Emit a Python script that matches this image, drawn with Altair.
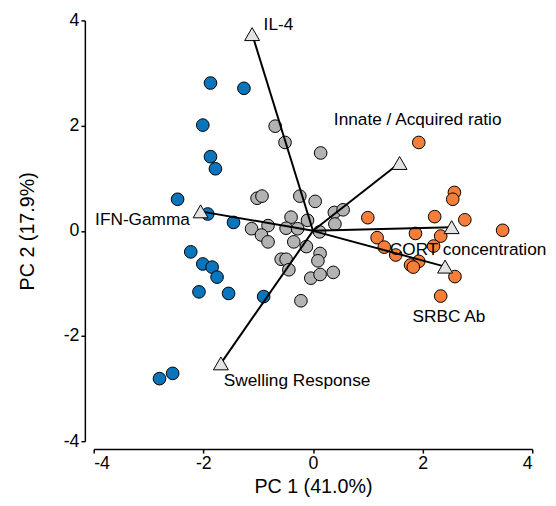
import altair as alt
import pandas as pd

# ---- PCA scores ----
blue_x = [-1.87, -1.26, -2.01, -1.87, -1.78, -2.47, -1.92, -1.45, -2.23, -2.01,
          -1.84, -1.75, -2.08, -1.54, -0.90, -2.80, -2.56]
blue_y = [2.81, 2.71, 2.01, 1.41, 1.18, 0.60, 0.32, 0.16, -0.40, -0.63,
          -0.69, -0.88, -1.16, -1.19, -1.25, -2.81, -2.71]

grey_x = [-0.69, -0.51, 0.14, -1.02, -0.93, -0.24, 0.04, 0.39, 0.55, -0.40,
          -0.10, -1.12, -0.82, -0.49, 0.40, -0.28, 0.12, -0.94, -0.82, -0.35,
          -0.12, 0.13, -0.58, -0.49, 0.09, -0.44, -0.04, 0.13, 0.37, -0.22]
grey_y = [1.99, 1.68, 1.48, 0.62, 0.66, 0.66, 0.56, 0.35, 0.40, 0.26,
          0.20, 0.04, 0.10, 0.05, 0.13, 0.04, -0.02, -0.08, -0.21, -0.21,
          -0.30, -0.43, -0.54, -0.54, -0.57, -0.74, -0.90, -0.83, -0.79, -1.33]

orange_x = [1.93, 2.58, 2.55, 1.00, 2.22, 2.77, 3.46, 1.87, 2.33, 1.17,
            2.20, 1.30, 1.51, 1.93, 1.78, 1.83, 2.59, 2.33]
orange_y = [1.68, 0.73, 0.60, 0.25, 0.27, 0.21, 0.01, -0.05, -0.10, -0.13,
            -0.29, -0.31, -0.46, -0.58, -0.65, -0.69, -0.87, -1.24]

# ---- variable loadings ----
var_names = ["IL-4", "IFN-Gamma", "Innate / Acquired ratio",
             "CORT concentration", "SRBC Ab", "Swelling Response"]
load_x = [-1.11, -2.05, 1.58, 2.53, 2.41, -1.68]
load_y = [3.74, 0.37, 1.29, 0.07, -0.68, -2.52]
label_x = [-0.63, -3.11, 1.91, 2.83, 2.48, -0.29]
label_y = [3.91, 0.20, 2.10, -0.36, -1.64, -2.86]

group_names = ["blue", "grey", "orange"]
group_colors = ["#0A74BC", "#B3B3B3", "#F57F3A"]

scores = pd.DataFrame({
    "PC1": blue_x + grey_x + orange_x,
    "PC2": blue_y + grey_y + orange_y,
    "group": ["blue"] * len(blue_x) + ["grey"] * len(grey_x) + ["orange"] * len(orange_x),
})
loadings = pd.DataFrame({
    "var": var_names, "lx": load_x, "ly": load_y,
    "tx": label_x, "ty": label_y,
    "x0": [0.0] * len(var_names), "y0": [0.0] * len(var_names),
})

font = "Liberation Sans"
ticks = [-4, -2, 0, 2, 4]
xs = alt.Scale(domain=[-4, 4], nice=False, zero=False)
ys = alt.Scale(domain=[-4, 4], nice=False, zero=False)

x_axis = alt.Axis(values=ticks, grid=False, offset=8, tickSize=4, labelPadding=2,
                  titlePadding=4, labelExpr="'' + datum.value")
y_axis = alt.Axis(values=ticks, grid=False, offset=9, tickSize=4, labelPadding=2,
                  titlePadding=26, labelExpr="'' + datum.value")

points = alt.Chart(scores).mark_circle(size=165, opacity=1, stroke="black",
                                       strokeWidth=1).encode(
    x=alt.X("PC1:Q", scale=xs, axis=x_axis, title="PC 1 (41.0%)"),
    y=alt.Y("PC2:Q", scale=ys, axis=y_axis, title="PC 2 (17.9%)"),
    fill=alt.Fill("group:N", scale=alt.Scale(domain=group_names, range=group_colors),
                  legend=None),
)

lines = alt.Chart(loadings).mark_rule(color="black", strokeWidth=2).encode(
    x=alt.X("x0:Q", scale=xs), y=alt.Y("y0:Q", scale=ys),
    x2="lx:Q", y2="ly:Q",
)

tris = alt.Chart(loadings).mark_point(shape="triangle-up", filled=True, fill="#E3E3E3",
                                      stroke="black", strokeWidth=1, size=230,
                                      opacity=1).encode(
    x=alt.X("lx:Q", scale=xs), y=alt.Y("ly:Q", scale=ys),
)

labels = alt.Chart(loadings).mark_text(font=font, fontSize=17.5, color="black",
                                       align="center", baseline="middle").encode(
    x=alt.X("tx:Q", scale=xs), y=alt.Y("ty:Q", scale=ys), text="var:N",
)

chart = alt.layer(points, lines, tris, labels).properties(
    width=445, height=427,
    autosize=alt.AutoSizeParams(type="none"),
    padding={"left": 87, "top": 9, "right": 16, "bottom": 54},
).configure_view(stroke=None).configure_axis(
    domainColor="black", domainWidth=1.5, tickColor="black", tickWidth=1.5,
    labelFont=font, labelFontSize=18, labelColor="black",
    titleFont=font, titleFontSize=20, titleColor="black", titleFontWeight="normal",
)

chart.save("out.html", embed_options={"renderer": "svg", "actions": False})
